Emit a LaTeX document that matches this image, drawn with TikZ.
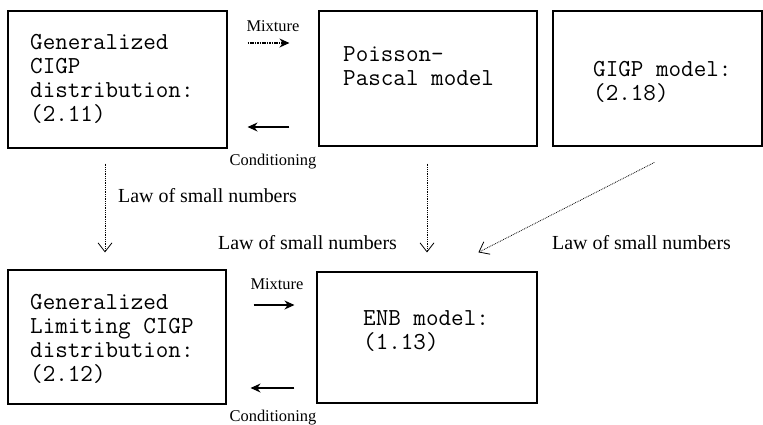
\documentclass[tikz,border=0pt]{standalone}
\usepackage{fontspec}
\setmainfont{Liberation Serif}
\usetikzlibrary{arrows.meta}
\tikzset{
  model/.style={draw, line width=1.1bp, inner sep=0pt},
  modeltext/.style={font=\ttfamily\fontsize{24.5}{24}\selectfont, align=left, anchor=base west, inner sep=0pt},
  lawarrow/.style={densely dotted, line width=0.8bp, -{Straight Barb[length=9bp,width=14bp,line width=0.8bp]}},
  mixarrow/.style={dash pattern=on 1.6bp off 0.8bp, line width=1.1bp, -{Stealth[length=10bp,width=9bp]}},
  condarrow/.style={line width=1.2bp, -{Stealth[length=10bp,width=9bp]}},
  lawlabel/.style={font=\fontsize{20}{22}\selectfont, anchor=west, inner sep=0pt},
  oplabel/.style={font=\fontsize{16.5}{18}\selectfont, inner sep=0pt}
}

\begin{document}
\begin{tikzpicture}[x=1bp,y=-1bp]
        \useasboundingbox (0,0) rectangle (763,424);
        % the five boxes
        \node[model, minimum width=219bp, minimum height=137bp] (cigp) at (117.5,79.5) {};
        \node[model, minimum width=218bp, minimum height=135bp] (pp) at (428,78.5) {};
        \node[model, minimum width=209bp, minimum height=135bp] (gigp) at (657.5,78.5) {};
        \node[model, minimum width=218bp, minimum height=134bp] (lcigp) at (117,337) {};
        \node[model, minimum width=220bp, minimum height=131bp] (enb) at (427,337.5) {};
        % texts in the boxes (base = last line)
        \node[modeltext] (cigptext) at (30,121) {Generalized\\CIGP\\distribution:\\(2.11)};
        \node[modeltext] (pptext) at (343,85) {Poisson-\\Pascal model};
        \node[modeltext] (gigptext) at (593,100) {GIGP model:\\(2.18)};
        \node[modeltext] (lcigptext) at (30,381) {Generalized\\Limiting CIGP\\distribution:\\(2.12)};
        \node[modeltext] (enbtext) at (363,349) {ENB model:\\(1.13)};
        % mixture and conditioning
        \draw[mixarrow, shorten <=20bp, shorten >=29bp] ([yshift=36.5bp]cigp.east) -- ([yshift=36.5bp]cigp.east -| pp.west);
        \draw[condarrow, shorten <=29bp, shorten >=20bp] ([yshift=-47.5bp]cigp.east -| pp.west) -- ([yshift=-47.5bp]cigp.east);
        \draw[condarrow, shorten <=27bp, shorten >=22bp] ([yshift=32bp]lcigp.east) -- ([yshift=32bp]lcigp.east -| enb.west);
        \draw[condarrow, shorten <=22bp, shorten >=24bp] ([yshift=-51bp]lcigp.east -| enb.west) -- ([yshift=-51bp]lcigp.east);
        \node[oplabel] (mixtop) at (273,26) {Mixture};
        \node[oplabel] (condtop) at (273,162) {Conditioning};
        \node[oplabel] (mixbot) at (277,284) {Mixture};
        \node[oplabel] (condbot) at (273,418) {Conditioning};
        % law of small numbers
        \draw[lawarrow, shorten <=15bp, shorten >=17bp] ([xshift=-12.5bp]cigp.south) -- ([xshift=-12.5bp]cigp.south |- lcigp.north);
        \draw[lawarrow, shorten <=17bp, shorten >=19bp] ([xshift=-1bp]pp.south) -- ([xshift=-1bp]pp.south |- enb.north);
        \draw[lawarrow, shorten <=35bp, shorten >=42bp] ([xshift=28bp]gigp.south) -- ([xshift=14bp]enb.north);
        \node[lawlabel] (lawleft) at (118,196) {Law of small numbers};
        \node[lawlabel] (lawmid) at (218,243) {Law of small numbers};
        \node[lawlabel] (lawright) at (552,243) {Law of small numbers};
\end{tikzpicture}
\end{document}
